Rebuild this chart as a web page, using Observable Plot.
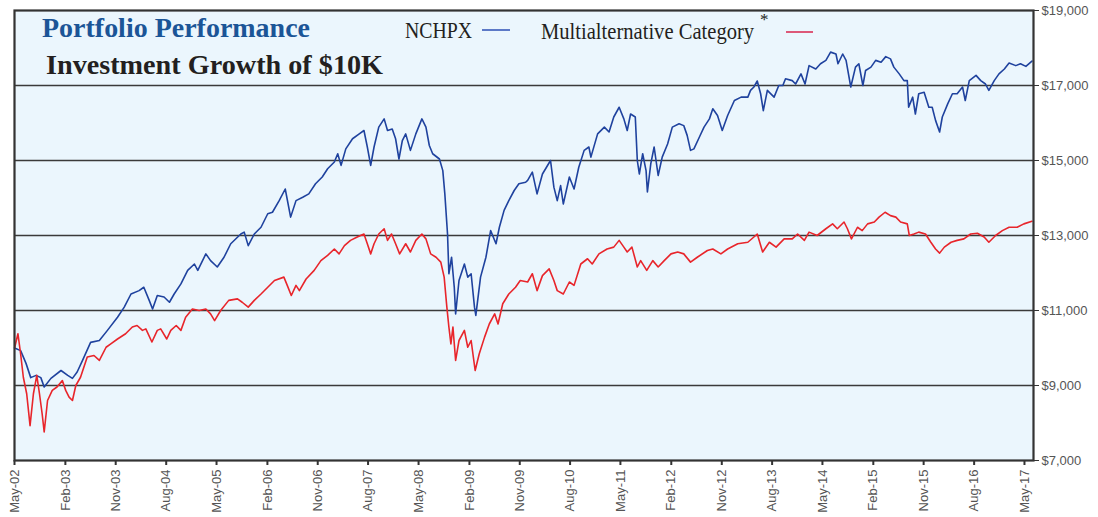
<!DOCTYPE html>
<html><head><meta charset="utf-8">
<script src="https://cdn.jsdelivr.net/npm/d3@7"></script>
<script src="https://cdn.jsdelivr.net/npm/@observablehq/plot@0.6"></script>
<style>
html,body{margin:0;padding:0;background:#fff;}
#wrap{position:relative;width:1098px;height:517px;overflow:hidden;}
</style></head><body><div id="wrap"></div><script>
// ---- data (decimal years, dollars) ----
const nchpxYear = [2002.33,2002.42,2002.50,2002.57,2002.65,2002.72,2002.77,2002.87,2003.02,2003.12,2003.19,2003.26,2003.34,2003.46,2003.59,2003.71,2003.86,2003.96,2004.06,2004.18,2004.25,2004.33,2004.38,2004.45,2004.55,2004.63,2004.70,2004.80,2004.90,2005.00,2005.05,2005.17,2005.24,2005.34,2005.44,2005.54,2005.69,2005.74,2005.80,2005.89,2005.99,2006.09,2006.16,2006.26,2006.35,2006.43,2006.51,2006.61,2006.70,2006.80,2006.90,2006.98,2007.08,2007.13,2007.18,2007.25,2007.35,2007.45,2007.52,2007.57,2007.62,2007.67,2007.74,2007.82,2007.87,2007.94,2007.99,2008.04,2008.09,2008.14,2008.21,2008.29,2008.38,2008.44,2008.49,2008.54,2008.64,2008.69,2008.72,2008.76,2008.78,2008.82,2008.86,2008.88,2008.93,2009.01,2009.06,2009.11,2009.16,2009.18,2009.25,2009.33,2009.40,2009.48,2009.53,2009.60,2009.67,2009.75,2009.82,2009.92,2009.95,2010.02,2010.09,2010.17,2010.29,2010.34,2010.39,2010.44,2010.48,2010.57,2010.64,2010.71,2010.79,2010.86,2010.89,2010.99,2011.09,2011.16,2011.23,2011.31,2011.38,2011.43,2011.48,2011.55,2011.58,2011.61,2011.66,2011.71,2011.73,2011.78,2011.83,2011.89,2011.95,2012.03,2012.10,2012.20,2012.27,2012.32,2012.37,2012.42,2012.50,2012.57,2012.65,2012.70,2012.77,2012.84,2012.92,2013.02,2013.12,2013.22,2013.26,2013.31,2013.36,2013.41,2013.45,2013.51,2013.61,2013.68,2013.74,2013.78,2013.88,2013.93,2014.01,2014.07,2014.13,2014.23,2014.30,2014.38,2014.45,2014.53,2014.56,2014.63,2014.68,2014.75,2014.82,2014.87,2014.93,2014.97,2015.05,2015.12,2015.20,2015.27,2015.34,2015.39,2015.47,2015.54,2015.59,2015.61,2015.67,2015.71,2015.76,2015.84,2015.91,2015.96,2016.01,2016.07,2016.11,2016.19,2016.26,2016.33,2016.41,2016.45,2016.51,2016.61,2016.68,2016.75,2016.80,2016.88,2016.95,2017.03,2017.10,2017.20,2017.27,2017.35,2017.44];
const nchpxValue = [10000,9930,9590,9210,9270,9210,8960,9190,9400,9270,9190,9360,9670,10150,10200,10470,10820,11090,11440,11530,11620,11270,11040,11400,11360,11220,11440,11710,12070,12240,12070,12510,12330,12160,12420,12780,13040,13090,12730,13040,13220,13580,13620,13930,14240,13490,13930,14020,14110,14380,14560,14780,14960,15180,14870,15310,15580,15710,15800,15360,14870,15360,15890,16110,15800,15840,15580,15040,15530,15710,15270,15710,16110,15890,15400,15180,15040,14730,14110,13040,11980,12420,11620,10910,11800,12240,11890,11980,11090,10870,11890,12420,13130,12780,13220,13670,13930,14200,14380,14420,14470,14690,14110,14640,15000,14290,13930,14330,13840,14560,14240,14820,15270,15360,15090,15710,15890,15760,16160,16420,16110,15800,16240,16160,15000,14640,15180,14730,14160,14910,15360,14600,15090,15440,15890,15980,15930,15670,15270,15310,15620,15890,16110,16380,16200,15800,16200,16600,16690,16690,16870,16960,17120,16780,16330,16870,16690,17000,17000,17180,17130,17040,17310,17040,17530,17440,17580,17670,17890,17840,17580,17840,17670,16960,17490,17580,17000,17400,17490,17670,17620,17770,17710,17490,17310,17130,17130,16420,16690,16240,16780,16820,16420,16420,16070,15760,16160,16510,16780,16780,16960,16600,17130,17270,17130,17040,16870,17130,17310,17440,17600,17530,17580,17510,17650];

const categoryYear = [2002.33,2002.38,2002.42,2002.46,2002.51,2002.56,2002.61,2002.66,2002.70,2002.74,2002.77,2002.82,2002.89,2002.96,2003.04,2003.09,2003.14,2003.19,2003.24,2003.31,2003.41,2003.51,2003.59,2003.69,2003.76,2003.86,2003.98,2004.08,2004.15,2004.23,2004.28,2004.37,2004.45,2004.50,2004.59,2004.65,2004.73,2004.80,2004.87,2004.97,2005.07,2005.17,2005.24,2005.30,2005.39,2005.51,2005.64,2005.71,2005.80,2005.89,2005.99,2006.09,2006.19,2006.33,2006.38,2006.44,2006.51,2006.56,2006.66,2006.78,2006.88,2006.98,2007.08,2007.15,2007.23,2007.32,2007.42,2007.52,2007.57,2007.62,2007.67,2007.74,2007.82,2007.87,2007.93,2007.99,2008.05,2008.14,2008.21,2008.29,2008.38,2008.44,2008.51,2008.59,2008.66,2008.71,2008.75,2008.78,2008.81,2008.84,2008.88,2008.93,2009.01,2009.06,2009.11,2009.17,2009.23,2009.31,2009.38,2009.46,2009.51,2009.58,2009.67,2009.77,2009.84,2009.95,2010.02,2010.09,2010.17,2010.27,2010.34,2010.39,2010.48,2010.57,2010.64,2010.74,2010.84,2010.91,2011.01,2011.13,2011.23,2011.31,2011.38,2011.43,2011.50,2011.58,2011.63,2011.72,2011.81,2011.89,2011.98,2012.08,2012.18,2012.27,2012.37,2012.47,2012.62,2012.70,2012.82,2012.92,2013.07,2013.22,2013.31,2013.36,2013.44,2013.54,2013.64,2013.76,2013.88,2013.96,2014.06,2014.13,2014.25,2014.38,2014.48,2014.55,2014.65,2014.70,2014.76,2014.85,2014.92,2015.00,2015.10,2015.17,2015.26,2015.34,2015.42,2015.49,2015.59,2015.62,2015.69,2015.76,2015.86,2015.94,2016.01,2016.07,2016.14,2016.24,2016.33,2016.43,2016.53,2016.63,2016.73,2016.80,2016.90,2017.00,2017.10,2017.22,2017.32,2017.44];
const categoryValue = [10000,10380,9840,9220,8780,7930,8780,9270,8780,8240,7760,8600,8870,8960,9130,8870,8690,8600,9000,9220,9760,9800,9670,10020,10110,10240,10380,10560,10600,10470,10510,10160,10470,10510,10240,10470,10600,10470,10820,11040,11000,11040,10910,10730,11000,11270,11310,11220,11090,11270,11440,11620,11800,11890,11670,11400,11670,11530,11840,12070,12330,12470,12640,12510,12730,12870,12960,13040,12780,12510,12780,13040,13180,12870,13040,12780,12510,12780,12560,12870,13040,12910,12510,12420,12290,11890,11090,10560,10110,10560,9670,10200,10470,10020,10200,9400,9840,10290,10640,10910,10640,11180,11440,11620,11800,11760,11980,11530,11930,12110,11800,11530,11440,11760,11670,12240,12380,12240,12510,12640,12690,12870,12690,12560,12690,12160,12330,12070,12330,12160,12330,12510,12560,12510,12290,12420,12600,12640,12510,12640,12780,12820,12960,13040,12560,12820,12690,12910,12910,13040,12870,13090,13000,13180,13310,13180,13360,13180,12910,13220,13130,13310,13360,13490,13620,13530,13490,13360,13310,13000,13040,13090,13040,12820,12640,12530,12690,12820,12870,12910,13040,13060,12960,12820,13000,13130,13220,13220,13310,13380];

const seriesNames = ["NCHPX", "Multialternative Category"];
const yTicks = [7000, 9000, 11000, 13000, 15000, 17000, 19000];
const gridValues = [9000, 11000, 13000, 15000, 17000];
const xTickLabels = ["May-02","Feb-03","Nov-03","Aug-04","May-05","Feb-06","Nov-06","Aug-07","May-08","Feb-09","Nov-09","Aug-10","May-11","Feb-12","Nov-12","Aug-13","May-14","Feb-15","Nov-15","Aug-16","May-17"];
const titleText = "Portfolio Performance";
const subtitleText = "Investment Growth of $10K";

// ---- build ----
function decToDate(t) {
  const y = Math.floor(t);
  const a = Date.UTC(y, 0, 1), b = Date.UTC(y + 1, 0, 1);
  return new Date(a + (t - y) * (b - a));
}
const parseTick = d3.utcParse("%b-%y");
const xTicks = xTickLabels.map(parseTick);
const rows = [
  ...nchpxYear.map((t, i) => ({date: decToDate(t), value: nchpxValue[i], series: seriesNames[0]})),
  ...categoryYear.map((t, i) => ({date: decToDate(t), value: categoryValue[i], series: seriesNames[1]}))
];
const colors = {"NCHPX": "#1f429e", "Multialternative Category": "#e8252b"};

const W = 1098, H = 517, mL = 14, mR = 65, mT = 10, mB = 57;
const chart = Plot.plot({
  width: W, height: H,
  marginLeft: mL, marginRight: mR, marginTop: mT, marginBottom: mB,
  style: {fontFamily: "'Liberation Sans', Arial, sans-serif", fontSize: "13px", background: "#fff"},
  x: {type: "utc", domain: [new Date(Date.UTC(2002, 4, 1)), new Date(Date.UTC(2017, 5, 19))], label: null},
  y: {domain: [7000, 19000], label: null},
  marks: [
    Plot.frame({fill: "#ebf6fd", stroke: null}),
    Plot.ruleY(gridValues, {stroke: "#3a3a3a", strokeWidth: 1.6}),
    Plot.line(rows, {x: "date", y: "value", z: "series", stroke: d => colors[d.series], strokeWidth: 1.6}),
    Plot.frame({stroke: "#333", strokeWidth: 2.2}),
    Plot.axisY(yTicks, {anchor: "right", label: null, tickSize: 5, tickPadding: 3, stroke: "#333", fill: "#555",
      tickFormat: d => "$" + d3.format(",")(d)}),
    Plot.axisX(xTicks, {anchor: "bottom", label: null, tickSize: 5, tickPadding: 4, tickRotate: -90, stroke: "#333", strokeWidth: 2, fill: "#555",
      tickFormat: d3.utcFormat("%b-%y")})
  ]
});
document.getElementById("wrap").appendChild(chart);

// ---- title and legend drawn inside the plot panel ----
const svg = d3.select(chart);
const g = svg.append("g").attr("text-anchor", "start");
const serif = "'Liberation Serif', 'Times New Roman', serif";
g.append("text").attr("x", 42).attr("y", 37).text(titleText).attr("text-anchor", "start")
  .attr("font-family", serif).attr("font-weight", "bold").attr("font-size", 27).attr("fill", "#1b5597")
  .attr("textLength", 268).attr("lengthAdjust", "spacingAndGlyphs");
g.append("text").attr("x", 46).attr("y", 74).text(subtitleText).attr("text-anchor", "start")
  .attr("font-family", serif).attr("font-weight", "bold").attr("font-size", 27).attr("fill", "#231f20")
  .attr("textLength", 337).attr("lengthAdjust", "spacingAndGlyphs");
// condensed legend labels: horizontal scale on the text element
g.append("text").attr("transform", "translate(405,38) scale(0.86,1)").text(seriesNames[0])
  .attr("text-anchor", "start").attr("font-family", serif).attr("font-size", 23).attr("fill", "#231f20");
g.append("line").attr("x1", 482).attr("x2", 510).attr("y1", 30).attr("y2", 30)
  .attr("stroke", "#2c4fb5").attr("stroke-width", 1.5);
g.append("text").attr("transform", "translate(541,39) scale(0.895,1)").text(seriesNames[1])
  .attr("text-anchor", "start").attr("font-family", serif).attr("font-size", 23).attr("fill", "#231f20");
g.append("text").attr("x", 760).attr("y", 25).text("*").attr("text-anchor", "start")
  .attr("font-family", serif).attr("font-size", 17).attr("fill", "#231f20");
g.append("line").attr("x1", 786).attr("x2", 813).attr("y1", 32).attr("y2", 32)
  .attr("stroke", "#d9234b").attr("stroke-width", 1.5);
</script></body></html>
